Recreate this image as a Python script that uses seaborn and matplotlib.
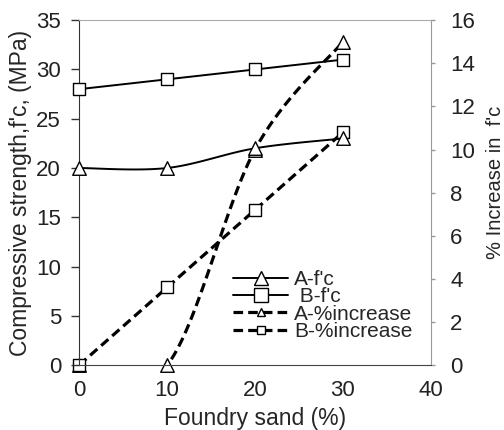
import numpy as np
import matplotlib
matplotlib.use("Agg")
import matplotlib.pyplot as plt
import seaborn as sns
import pandas as pd
from matplotlib.lines import Line2D

sand = [0, 10, 20, 30]
a_fc = [20, 20, 22, 23]
b_fc = [28, 29, 30, 31]
a_inc = [0, 0, 10, 15]
b_inc = [0, 3.6, 7.2, 10.8]
labels = ["A-f'c", " B-f'c", "A-%increase", "B-%increase"]

sns.set_style("white")
plt.rcParams['font.family'] = ['Liberation Sans', 'DejaVu Sans']


def smooth(x, y, xr, yr, n=40):
    # Excel-like Catmull-Rom Bezier smoothing in normalized space
    x = np.asarray(x, float) / xr
    y = np.asarray(y, float) / yr
    P = np.column_stack([x, y])
    m = len(P)
    out = []
    for i in range(m - 1):
        p0 = P[max(i - 1, 0)]
        p1 = P[i]
        p2 = P[i + 1]
        p3 = P[min(i + 2, m - 1)]
        c1 = p1 + (p2 - p0) / 6
        c2 = p2 - (p3 - p1) / 6
        t = np.linspace(0, 1, n)[:, None]
        seg = (1 - t) ** 3 * p1 + 3 * (1 - t) ** 2 * t * c1 + 3 * (1 - t) * t ** 2 * c2 + t ** 3 * p2
        out.append(seg if i == 0 else seg[1:])
    S = np.vstack(out)
    return S[:, 0] * xr, S[:, 1] * yr


fig = plt.figure(figsize=(5.04, 4.30), dpi=100)
ax = fig.add_axes([0.157, 0.151, 0.698, 0.802])
ax2 = ax.twinx()

df = pd.DataFrame({"sand": sand, "a_fc": a_fc, "b_fc": b_fc, "a_inc": a_inc, "b_inc": b_inc})

dash = (0, (3.0, 1.6))
xs, ys = smooth(sand, a_fc, 40, 35)
ax.plot(xs, ys, color='black', lw=1.4, zorder=3)
xs, ys = smooth(sand, b_fc, 40, 35)
ax.plot(xs, ys, color='black', lw=1.4, zorder=3)
xs, ys = smooth(sand, a_inc, 40, 16)
ax2.plot(xs, ys, color='black', lw=2.3, linestyle=dash, zorder=3)
xs, ys = smooth(sand, b_inc, 40, 16)
ax2.plot(xs, ys, color='black', lw=2.3, linestyle=dash, zorder=3)

mk = dict(facecolor='white', edgecolor='black', linewidth=1.0, zorder=5, legend=False, clip_on=False)
sns.scatterplot(data=df, x="sand", y="a_fc", marker='^', s=95, ax=ax, **mk)
sns.scatterplot(data=df, x="sand", y="b_fc", marker='s', s=85, ax=ax, **mk)
sns.scatterplot(data=df, x="sand", y="a_inc", marker='^', s=95, ax=ax2, **mk)
sns.scatterplot(data=df, x="sand", y="b_inc", marker='s', s=85, ax=ax2, **mk)

ax.set_xlim(0, 40)
ax.set_ylim(0, 35)
ax2.set_ylim(0, 16)
ax.set_xticks(range(0, 41, 10))
ax.set_yticks(range(0, 36, 5))
ax2.set_yticks(range(0, 17, 2))
ax.set_xlabel("Foundry sand (%)", fontsize=16.5, labelpad=4)
ax.set_ylabel("Compressive strength,f'c, (MPa)", fontsize=16.5, labelpad=3)
ax2.set_ylabel("% Increase in  f'c", fontsize=14.5)
ax2.yaxis.set_label_coords(1.157, 0.53)

for a in (ax, ax2):
    a.set_facecolor('none')
    for s in a.spines.values():
        s.set_visible(False)
ax.spines['left'].set_visible(True)
ax.spines['left'].set_color('#333333')
ax.spines['bottom'].set_visible(True)
ax.spines['bottom'].set_color('#444444')
ax.spines['top'].set_visible(True)
ax.spines['top'].set_color('#aaaaaa')
ax2.spines['right'].set_visible(True)
ax2.spines['right'].set_color('#999999')
ax.tick_params(axis='y', labelsize=16, direction='out', length=6, width=1, colors='#333333', labelcolor='#222222', pad=7)
ax.tick_params(axis='x', labelsize=16, direction='out', length=4, width=1, colors='#555555', labelcolor='#222222', pad=7)
ax2.tick_params(axis='y', labelsize=16, direction='out', length=3, width=1, colors='#999999', labelcolor='#222222', pad=11)
ax.set_zorder(ax2.get_zorder() + 1)
ax.patch.set_visible(False)
ax.grid(False)
ax2.grid(False)

handles = [
    Line2D([], [], color='black', lw=1.4, marker='^', markersize=10, markerfacecolor='white', markeredgecolor='black'),
    Line2D([], [], color='black', lw=1.4, marker='s', markersize=9.5, markerfacecolor='white', markeredgecolor='black'),
    Line2D([], [], color='black', lw=2.3, linestyle=dash, marker='^', markersize=6, markerfacecolor='white', markeredgecolor='black'),
    Line2D([], [], color='black', lw=2.3, linestyle=dash, marker='s', markersize=6, markerfacecolor='white', markeredgecolor='black'),
]
ax.legend(handles, labels, loc='upper left', bbox_to_anchor=(0.415, 0.30), frameon=False,
          fontsize=15, handlelength=2.6, handletextpad=0.3, labelspacing=-0.08, borderaxespad=0)

fig.savefig("out.png", dpi=100)
